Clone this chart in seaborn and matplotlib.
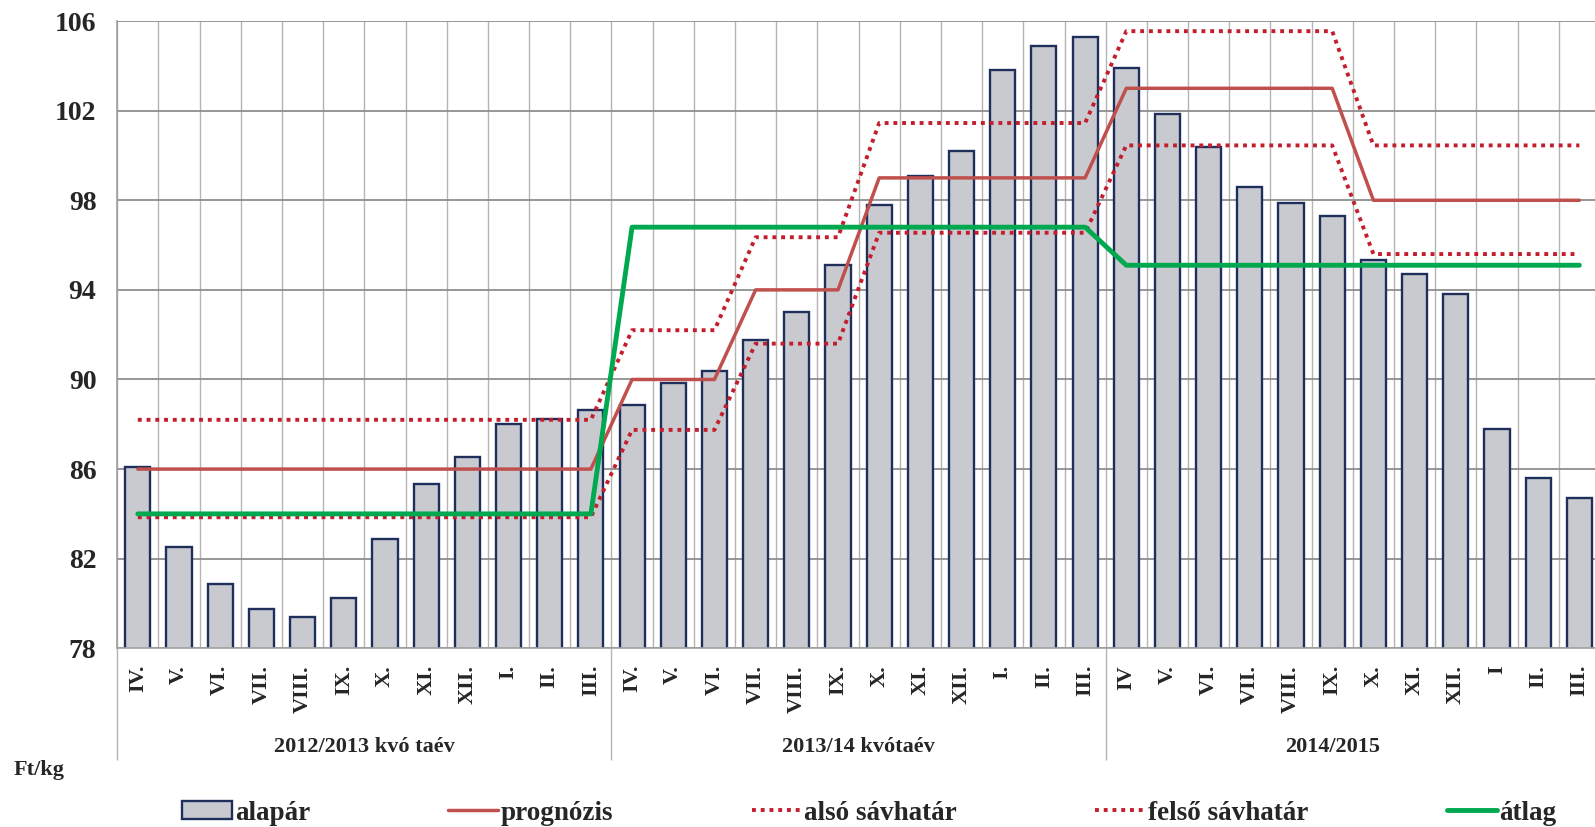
import numpy as np
import matplotlib
matplotlib.use('Agg')
import matplotlib.pyplot as plt
import seaborn as sns
from matplotlib.patches import Patch
from matplotlib.lines import Line2D

sns.set_style('white')
plt.rcParams['font.family'] = ['Liberation Serif', 'DejaVu Serif']
plt.rcParams['font.weight'] = 'bold'

# hónapok (3 kvótaév)
honapok = ['IV.', 'V.', 'VI.', 'VII.', 'VIII.', 'IX.', 'X.', 'XI.', 'XII.', 'I.', 'II.', 'III.',
           'IV.', 'V.', 'VI.', 'VII.', 'VIII.', 'IX.', 'X.', 'XI.', 'XII.', 'I.', 'II.', 'III.',
           'IV', 'V.', 'VI.', 'VII.', 'VIII.', 'IX.', 'X.', 'XI.', 'XII.', 'I', 'II.', 'III.']
kvotaevek = ['2012/2013 kvó taév', '2013/14 kvótaév', '2014/2015']

alapar = [86.1, 82.5, 80.85, 79.75, 79.4, 80.25, 82.9, 85.35, 86.55, 88.0, 88.25, 88.65,
          88.85, 89.85, 90.4, 91.75, 93.0, 95.1, 97.8, 99.1, 100.2, 103.8, 104.9, 105.3,
          103.9, 101.85, 100.4, 98.6, 97.9, 97.3, 95.35, 94.7, 93.8, 87.8, 85.6, 84.7]
prognozis = [86, 86, 86, 86, 86, 86, 86, 86, 86, 86, 86, 86,
             90, 90, 90, 94, 94, 94, 99, 99, 99, 99, 99, 99,
             103, 103, 103, 103, 103, 103, 98, 98, 98, 98, 98, 98]
also = [83.85, 83.85, 83.85, 83.85, 83.85, 83.85, 83.85, 83.85, 83.85, 83.85, 83.85, 83.85,
        87.75, 87.75, 87.75, 91.6, 91.6, 91.6, 96.55, 96.55, 96.55, 96.55, 96.55, 96.55,
        100.45, 100.45, 100.45, 100.45, 100.45, 100.45, 95.6, 95.6, 95.6, 95.6, 95.6, 95.6]
felso = [88.2, 88.2, 88.2, 88.2, 88.2, 88.2, 88.2, 88.2, 88.2, 88.2, 88.2, 88.2,
         92.2, 92.2, 92.2, 96.35, 96.35, 96.35, 101.45, 101.45, 101.45, 101.45, 101.45, 101.45,
         105.55, 105.55, 105.55, 105.55, 105.55, 105.55, 100.45, 100.45, 100.45, 100.45, 100.45, 100.45]
atlag = [84.0, 84.0, 84.0, 84.0, 84.0, 84.0, 84.0, 84.0, 84.0, 84.0, 84.0, 84.0,
         96.8, 96.8, 96.8, 96.8, 96.8, 96.8, 96.8, 96.8, 96.8, 96.8, 96.8, 96.8,
         95.1, 95.1, 95.1, 95.1, 95.1, 95.1, 95.1, 95.1, 95.1, 95.1, 95.1, 95.1]

idx = np.arange(len(honapok))

bar_fill = '#C9CACF'
bar_edge = '#1F2F5C'
c_prog = '#C0504D'
c_sav = '#C41E2E'
c_atl = '#00A850'
dots = (0, (1, 1.25))

fig = plt.figure(figsize=(15.95, 8.27), dpi=100)
ax = fig.add_axes([0.0735, 0.2161, 0.9296, 0.7584])

sns.barplot(x=idx, y=alapar, color=bar_fill, saturation=1, width=0.61,
            edgecolor=bar_edge, linewidth=1.7, ax=ax, zorder=2)
sns.lineplot(x=idx, y=prognozis, color=c_prog, lw=2.5, ax=ax, zorder=3)
sns.lineplot(x=idx, y=also, color=c_sav, lw=2.8, linestyle=dots, ax=ax, zorder=3)
sns.lineplot(x=idx, y=felso, color=c_sav, lw=2.8, linestyle=dots, ax=ax, zorder=3)
sns.lineplot(x=idx, y=atlag, color=c_atl, lw=3.5, ax=ax, zorder=4)

ax.set_xlim(-0.5, len(honapok) - 0.5)
ax.set_ylim(78, 106)
ax.set_yticks(np.arange(78, 107, 4))
ax.set_xlabel('')
ax.set_ylabel('')

# kategóriahatárok (major) és hónapnevek (minor)
ax.set_xticks(np.arange(len(honapok) + 1) - 0.5)
ax.set_xticklabels([])
ax.set_xticks(idx, minor=True)
ax.set_xticklabels(honapok, minor=True, rotation=90, fontsize=16, fontweight='bold')
ax.tick_params(axis='x', which='major', length=52, width=1, color='#b4b4b4', direction='out')
ax.tick_params(axis='x', which='minor', length=0, pad=12)
ax.tick_params(axis='y', length=5, width=1, color='#909090', pad=10, labelsize=20)
for t in ax.get_yticklabels():
    t.set_fontweight('bold')

ax.grid(axis='x', which='major', color='#b4b4b4', lw=1)
ax.grid(axis='y', color='#8f8f8f', lw=1.3)
ax.set_axisbelow(True)
for s in ['top', 'right']:
    ax.spines[s].set_visible(False)
for s in ['left', 'bottom']:
    ax.spines[s].set_color('#a0a0a0')
    ax.spines[s].set_linewidth(1.2)

# kvótaév elválasztók és feliratok
trans = ax.get_xaxis_transform()
ax.vlines([-0.5, 11.5, 23.5, 35.5], -0.178, 0, transform=trans, colors='#b4b4b4',
          lw=1, clip_on=False)
for xpos, txt in zip([5.5, 17.5, 29.0], kvotaevek):
    ax.text(xpos, -0.157, txt, transform=trans, ha='center', va='center',
            fontsize=16, fontweight='bold')

fig.text(14 / 1595, 1 - 770 / 827, 'Ft/kg', ha='left', va='center', fontsize=16, fontweight='bold')

handles = [
    Patch(facecolor=bar_fill, edgecolor=bar_edge, linewidth=1.7),
    Line2D([], [], color=c_prog, lw=2.5),
    Line2D([], [], color=c_sav, lw=2.8, linestyle=dots),
    Line2D([], [], color=c_sav, lw=2.8, linestyle=dots),
    Line2D([], [], color=c_atl, lw=3.5),
]
labels = ['alapár', 'prognózis', 'alsó sávhatár', 'felső sávhatár', 'átlag']
fig.legend(handles, labels, ncol=5, loc='center left',
           bbox_to_anchor=(182 / 1595, 1 - 813 / 827), frameon=False,
           prop={'size': 19.5, 'weight': 'bold'}, handlelength=1.85, handleheight=0.63,
           handletextpad=0.1, columnspacing=5.1, borderpad=0, borderaxespad=0)

fig.savefig('out.png', dpi=100)
